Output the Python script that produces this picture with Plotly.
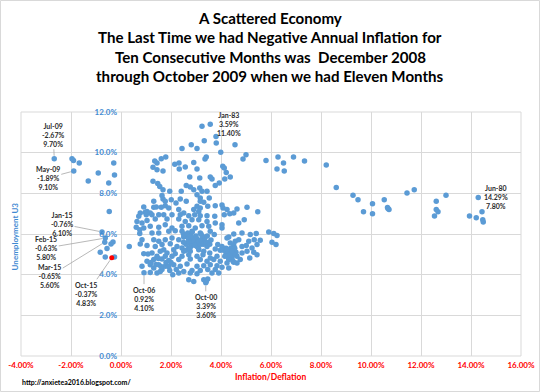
import plotly.graph_objects as go

# ---------------- data ----------------
# annual CPI inflation (%) and U3 unemployment (%) — monthly observations
inflation = [
    # deflation months (2009, 2015)
    -2.67, -1.96, -1.90, -1.67, -0.29, -1.89, -0.91, -0.26, -1.31, -0.49,
    -0.47, -0.76, -0.63, -0.65, -0.32, -0.40, -0.56, -0.83, -0.63, -0.26,
    # high inflation (1980-82)
    6.28, 6.90, 6.50, 7.34, 6.24, 6.53, 8.21, 8.61, 9.28, 9.48,
    10.06, 10.53, 9.70, 10.06, 10.68, 10.72, 10.66, 11.44, 11.73, 13.00,
    12.61, 12.61, 12.68, 12.54, 14.29, 14.44, 13.94, 14.21, 14.47, 14.49,
    # main cloud
    3.24, 3.57, 3.80, 3.33, 3.81, 2.81, 4.56, 2.44, 3.04, 3.99, 5.00,
    3.41, 3.36, 4.88, 1.35, 1.61, 1.79, 1.44, 2.15, 2.32, 2.91, 5.80,
    1.28, 1.44, 1.68, 2.33, 2.57, 3.04, 4.07, 4.13, 4.21,
    2.75, 3.15, 3.57, 3.64, 4.37, 4.15, 3.93, 3.77, 1.28, 1.47, 1.55, 2.61, 2.77,
    1.68, 1.95, 2.41, 2.91, 3.15, 3.24, 3.44, 3.04, 3.53, 1.64, 1.68, 2.01, 2.37, 3.17,
    1.31, 1.77, 2.20, 2.61, 3.17, 3.31, 3.04, 3.17, 2.91, 3.11, 3.47, 3.77, 4.04,
    4.08, 4.24, 4.64, 5.04, 5.47, 0.91, 1.04, 1.31, 1.41, 1.61, 1.77, 1.91, 2.31,
    2.51, 0.77, 0.97, 1.17,
    0.71, 1.01, 1.24, 1.51, 1.71, 2.04, 2.37, 2.71, 2.95, 3.17, 3.44, 3.75, 4.13,
    4.35, 4.51, 4.71, 4.93, 0.64, 0.84, 1.04, 1.37, 1.84, 2.31, 2.57, 2.84, 3.11,
    3.44, 3.77, 4.04,
    0.61, 0.75, 0.91, 1.17, 1.51, 1.77, 2.04, 2.44, 2.71, 2.97, 3.24, 3.51, 4.04,
    5.91, 6.11, 6.24, 0.75, 1.24, 1.51, 1.91, 2.17, 2.44, 2.67, 2.84, 3.17, 3.57,
    3.73, 4.31, 4.51, 4.84, 5.17, 5.41,
    0.84, 1.31, 1.51, 1.77, 2.04, 2.31, 2.51, 2.71, 3.04, 3.31, 4.24, 4.71, 4.37,
    4.57, 5.11, 5.33, 5.57, 6.04, 6.20, 0.33, 0.77, 1.04, 1.37, 1.64, 1.97, 2.24,
    2.64, 2.84, 3.04, 3.44, 3.87, 4.04, 4.51, 4.17, 4.84, 5.01, 5.24, 5.44, 1.71,
    2.11, 2.44, 2.71,
    0.91, 1.24, 1.57, 1.84, 2.17, 2.51, 2.77, 3.11, 3.31, 3.55, 3.77, 3.97, 4.24,
    4.40, 4.57, 4.84, 5.04, 5.31, 1.08, 1.44, 1.77, 2.04, 2.44, 2.71, 3.04, 3.28,
    3.57, 3.84, 4.24, 4.44, 4.64, 5.15, 5.44, 1.04, 1.31, 1.64, 1.91, 2.31, 2.77,
    3.17, 3.44, 3.71, 3.97, 4.31, 4.51, 4.77,
    0.84, 1.17, 1.51, 1.77, 2.11, 2.37, 2.64, 3.04, 3.31, 3.57, 3.84, 4.24, 4.48,
    4.64, 1.31, 1.64, 1.95, 2.21, 2.51, 2.84, 3.17, 3.47, 3.77, 4.04, 4.31, 1.17,
    1.44, 1.57, 2.07, 2.31, 2.77, 3.04, 3.64, 3.91,
    2.71, 2.91, 3.31, 3.41, 3.47, 0.92, 3.39,
    # dense cores
    4.10, 4.20, 4.30, 4.40, 4.50, 4.60, 4.20, 4.30, 4.40, 4.50, 4.15, 4.35, 4.55,
    4.25, 4.45,
    2.50, 2.60, 2.70, 2.80, 2.90, 3.00, 2.60, 2.70, 2.80, 2.90, 3.00, 3.10, 2.50,
    2.60, 2.80, 3.10, 2.95, 2.75, 2.85, 3.20,
    3.20, 3.30, 3.40, 3.35, 3.25, 3.50, 3.55, 3.60, 3.20, 3.45,
    1.40, 1.60, 1.80, 1.50, 1.90, 1.20, 2.00,
]
unemployment = [
    9.70, 9.70, 9.61, 9.49, 9.49, 9.10, 9.00, 8.90, 8.61, 8.51,
    7.11, 6.10, 5.80, 5.60, 5.61, 5.51, 5.29, 5.10, 4.87, 4.87,
    9.79, 9.79, 9.49, 9.59, 9.20, 9.10, 9.39, 8.29, 7.90, 7.69,
    7.49, 7.69, 7.10, 7.00, 7.26, 7.20, 7.30, 8.02, 8.18, 7.90,
    7.61, 7.20, 7.10, 6.89, 7.80, 7.10, 6.89, 6.80, 6.70, 6.59,
    11.30, 11.40, 10.80, 10.59, 10.48, 10.39, 10.39, 10.20, 10.20, 10.02, 9.90,
    9.79, 9.69, 9.69, 9.59, 9.70, 9.79, 9.49, 9.43, 9.49, 9.52, 9.61,
    9.28, 9.16, 9.10, 9.20, 9.30, 9.20, 9.33, 9.25, 9.03,
    8.80, 8.75, 8.80, 8.70, 8.80, 8.70, 8.51, 8.38, 8.59, 8.48, 8.34, 8.39, 8.31,
    8.18, 8.10, 8.10, 8.18, 8.26, 8.10, 8.10, 7.93, 7.77, 7.89, 7.72, 7.69, 7.72, 7.77,
    7.61, 7.61, 7.52, 7.61, 7.61, 7.56, 7.36, 7.28, 7.20, 7.11, 7.36, 7.39, 7.43,
    7.28, 7.20, 7.23, 7.31, 7.10, 7.33, 7.11, 7.31, 7.33, 7.31, 7.39, 7.28, 7.20,
    7.03, 7.03, 7.07, 7.03,
    6.87, 6.95, 6.95, 6.95, 6.95, 6.95, 6.95, 6.90, 6.95, 6.90, 6.90, 6.87, 6.95,
    7.00, 7.03, 6.54, 6.70, 6.62, 6.54, 6.67, 6.74, 6.74, 6.74, 6.62, 6.70, 6.70,
    6.62, 6.54, 6.46,
    6.33, 6.21, 6.30, 6.38, 6.33, 6.46, 6.30, 6.38, 6.41, 6.30, 6.41, 6.38, 6.30,
    6.10, 6.02, 5.93, 6.02, 6.05, 6.05, 6.13, 6.16, 6.13, 6.05, 6.13, 6.05, 6.13,
    5.97, 5.85, 6.00, 6.05, 5.97, 6.02,
    5.72, 5.72, 5.64, 5.72, 5.80, 5.72, 5.85, 5.75, 5.75, 5.64, 5.80, 5.72, 5.56,
    5.64, 5.64, 5.72, 5.69, 5.59, 5.48, 5.39, 5.51, 5.43, 5.39, 5.48, 5.52, 5.39,
    5.56, 5.48, 5.39, 5.39, 5.48, 5.39, 5.43, 5.23, 5.39, 5.44, 5.31, 5.48, 5.23,
    5.23, 5.31, 5.31,
    5.03, 5.07, 5.15, 5.07, 5.03, 5.15, 5.15, 5.23, 5.15, 5.07, 5.26, 5.20, 5.15,
    5.07, 4.98, 5.07, 5.15, 5.10, 5.02, 4.90, 4.90, 4.90, 4.90, 4.98, 4.90, 4.98,
    4.82, 4.90, 4.90, 4.82, 4.90, 4.82, 4.98, 4.66, 4.74, 4.77, 4.70, 4.74, 4.77,
    4.74, 4.66, 4.74, 4.66, 4.74, 4.61, 4.74,
    4.41, 4.49, 4.49, 4.41, 4.49, 4.41, 4.52, 4.41, 4.44, 4.49, 4.44, 4.57, 4.66,
    4.57, 4.33, 4.25, 4.21, 4.25, 4.16, 4.21, 4.21, 4.25, 4.25, 4.36, 4.33, 4.11,
    4.08, 4.16, 4.00, 4.08, 4.08, 4.05, 4.08, 4.08,
    3.75, 3.67, 3.75, 3.67, 3.79, 4.10, 3.60,
    5.20, 5.30, 5.20, 5.30, 5.20, 5.10, 5.00, 5.10, 5.00, 5.00, 4.90, 4.95, 5.30,
    5.25, 5.15,
    6.00, 5.90, 5.80, 5.70, 5.60, 5.50, 5.50, 5.60, 5.40, 5.80, 5.90, 5.60, 5.60,
    5.20, 5.90, 5.30, 5.45, 5.30, 6.10, 5.70,
    5.50, 5.50, 5.60, 5.80, 5.90, 5.60, 5.50, 5.70, 6.00, 5.90,
    4.50, 4.40, 4.60, 4.80, 4.40, 4.60, 4.60,
]

# latest month, highlighted in red
latest_inflation = [-0.37]
latest_unemployment = [4.83]

# labelled months
label_month = ["Jul-09", "May-09", "Jan-15", "Feb-15", "Mar-15", "Oct-15",
               "Oct-06", "Oct-00", "Jan-83", "Jun-80"]
label_inflation = [-2.67, -1.89, -0.76, -0.63, -0.65, -0.37, 0.92, 3.39, 3.59, 14.29]
label_unemployment = [9.70, 9.10, 6.10, 5.80, 5.60, 4.83, 4.10, 3.60, 11.40, 7.80]

x_ticks = [-4, -2, 0, 2, 4, 6, 8, 10, 12, 14, 16]
y_ticks = [0, 2, 4, 6, 8, 10, 12]

title_lines = [
    "A Scattered Economy",
    "The Last Time we had Negative Annual Inflation for",
    "Ten Consecutive Months was  December 2008",
    "through October 2009 when we had Eleven Months",
]

# ---------------- figure ----------------
FONT = "Lato"
BLUE = "#5b9bd5"
AXBLUE = "#3f8ad2"
RED = "#ff0000"
GRID = "#d9d9d9"
LABEL = "#2b2b2b"

fig = go.Figure()
fig.add_trace(go.Scatter(
    x=inflation, y=unemployment, mode="markers",
    marker=dict(color=BLUE, size=5.5, line=dict(width=0)),
    hoverinfo="skip", showlegend=False))
fig.add_trace(go.Scatter(
    x=latest_inflation, y=latest_unemployment, mode="markers",
    marker=dict(color=RED, size=5, line=dict(width=0)),
    hoverinfo="skip", showlegend=False))

# label text offsets (pixels) relative to the point
offsets = {
    "Jul-09": (-1, -24, True),
    "May-09": (-26, 7, True),
    "Jan-15": (-40, -8, True),
    "Feb-15": (-59, 10, True),
    "Mar-15": (-55, 34, True),
    "Oct-15": (-25, 36, True),
    "Oct-06": (0, 26, True),
    "Oct-00": (0, 23, True),
    "Jan-83": (18, 0, False),
    "Jun-80": (18, 0, False),
}
annotations = []
for m, xv, yv in zip(label_month, label_inflation, label_unemployment):
    dx, dy, line = offsets[m]
    txt = f"<b>{m}<br>{xv:.2f}%<br>{yv:.2f}%</b>"
    common = dict(x=xv, y=yv, xref="x", yref="y", text=txt, align="center",
                  font=dict(family=FONT, size=7, color=LABEL))
    if line:
        annotations.append(dict(
            showarrow=True, ax=dx, ay=dy, arrowhead=0, arrowwidth=0.8,
            arrowcolor="#a6a6a6", standoff=3, **common))
    else:
        annotations.append(dict(showarrow=False, xshift=dx, yshift=-dy, **common))

title_y = [1.385, 1.306, 1.225, 1.147]
for line_txt, ty in zip(title_lines, title_y):
    annotations.append(dict(
        x=0.498, y=ty, xref="paper", yref="paper", text=f"<b>{line_txt}</b>",
        showarrow=False, xanchor="center", yanchor="middle",
        font=dict(family=FONT, size=15.1, color="#000000")))

annotations.append(dict(
    x=-0.012, y=0.49, xref="paper", yref="paper", text="<b>Unemployment U3</b>",
    textangle=-90, showarrow=False, xanchor="center", yanchor="middle",
    font=dict(family=FONT, size=8, color=AXBLUE)))
annotations.append(dict(
    x=0.498, y=-0.086, xref="paper", yref="paper", text="<b>Inflation/Deflation</b>",
    showarrow=False, xanchor="center", yanchor="middle",
    font=dict(family=FONT, size=8.5, color=RED)))
annotations.append(dict(
    x=-0.002, y=-0.107, xref="paper", yref="paper",
    text="<b>http://anxietea2016.blogspot.com/</b>",
    showarrow=False, xanchor="left", yanchor="middle",
    font=dict(family=FONT, size=7, color="#000000")))

x_ticktext = [f"{v:.2f}%" for v in x_ticks]
y_ticktext = [f"{v:.1f}%" for v in y_ticks]

fig.update_layout(
    template="none",
    width=540, height=392,
    margin=dict(l=21, r=19, t=112, b=36, pad=0, autoexpand=False),
    paper_bgcolor="white", plot_bgcolor="white",
    showlegend=False,
    annotations=annotations,
    xaxis=dict(
        range=[-4, 16], tickmode="array", tickvals=x_ticks, ticktext=x_ticktext,
        showgrid=True, gridcolor=GRID, gridwidth=1, zeroline=False,
        showline=False, ticks="", automargin=False, ticklabelstandoff=3,
        tickfont=dict(family=FONT, size=8, color=RED, weight="bold"),
        fixedrange=True),
    yaxis=dict(
        range=[0, 12], tickmode="array", tickvals=y_ticks, ticktext=y_ticktext,
        anchor="free", position=0.2,
        showgrid=True, gridcolor=GRID, gridwidth=1, zeroline=False,
        showline=False, ticks="", automargin=False, ticklabelstandoff=4,
        tickfont=dict(family=FONT, size=8, color=AXBLUE, weight="bold"),
        fixedrange=True),
    shapes=[
        dict(type="rect", xref="paper", yref="paper", x0=0, x1=1, y0=0, y1=1,
             line=dict(color=GRID, width=1), layer="below"),
        dict(type="rect", xref="paper", yref="paper",
             x0=-0.041, x1=1.037, y0=-0.1455, y1=1.457,
             line=dict(color="#d9d9d9", width=1), layer="below"),
    ],
)

fig.write_html(
    "out.html",
    config={"displayModeBar": False, "staticPlot": True},
    post_script="document.body.style.margin='0';document.body.style.overflow='hidden';",
)
